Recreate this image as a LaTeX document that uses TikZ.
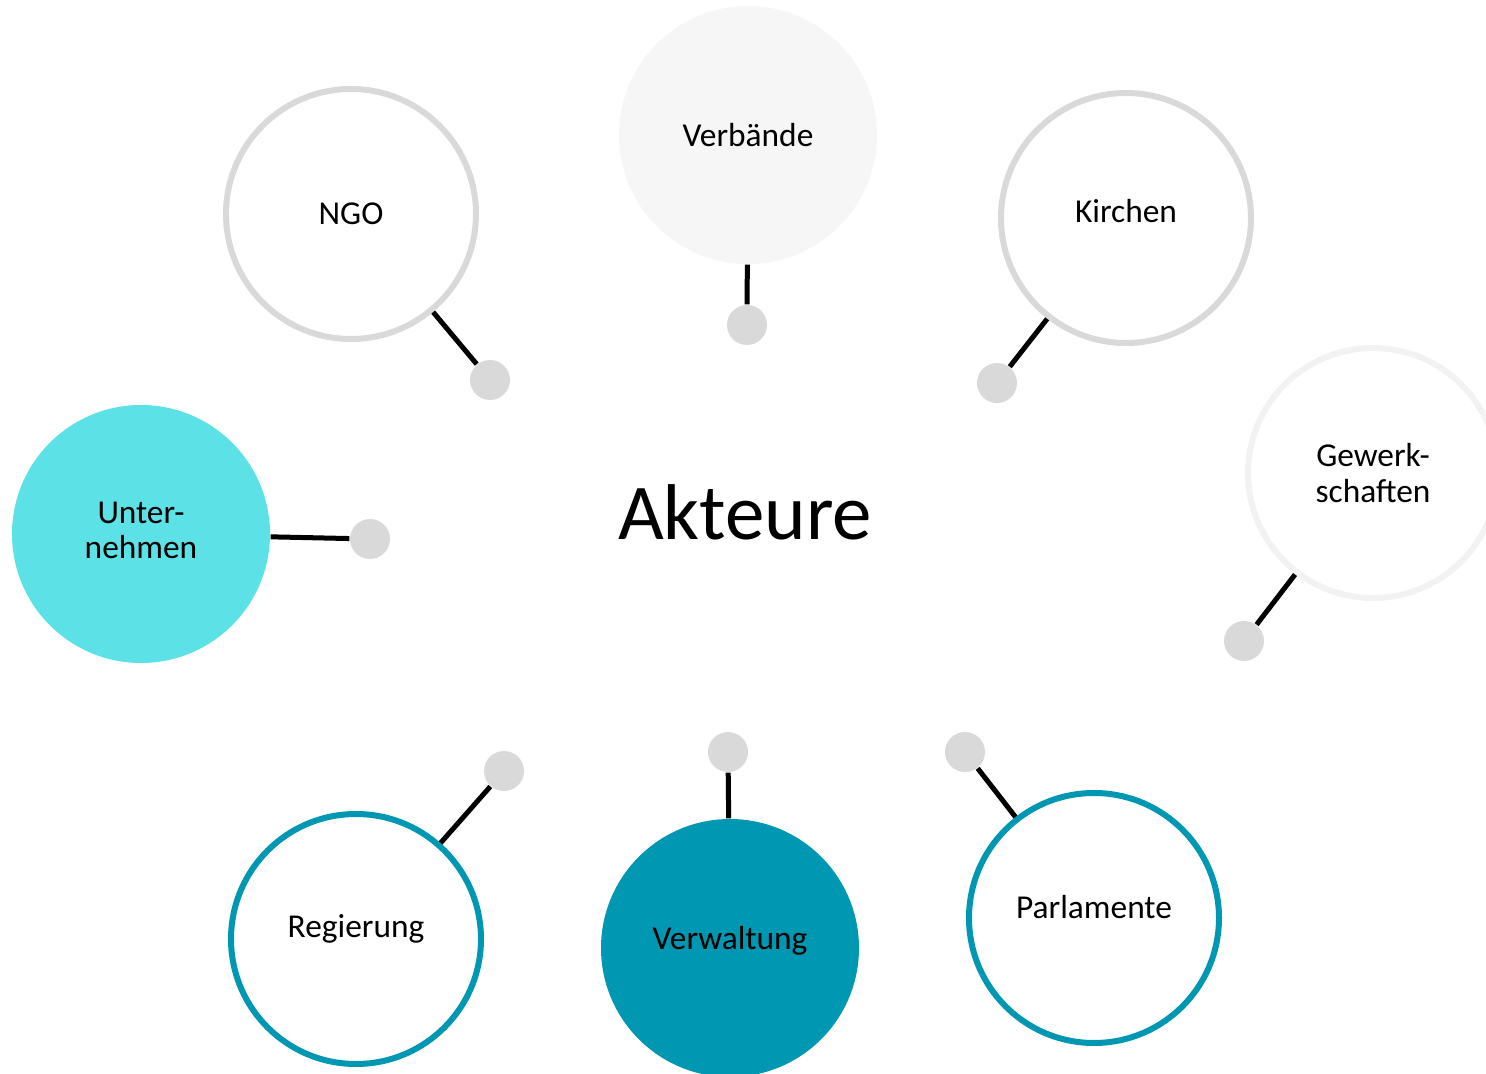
\documentclass[tikz,border=0pt]{standalone}
\usepackage{fontspec}
\setmainfont{Carlito}
\usepackage{tikz}
\definecolor{knobgray}{HTML}{D9D9D9}
\definecolor{palegray}{HTML}{F2F2F2}
\definecolor{fogfill}{HTML}{F6F6F6}
\definecolor{aqua}{HTML}{5CE1E6}
\definecolor{petrol}{HTML}{0097B2}
\tikzset{
	actor/.style={circle, minimum size=2.5cm, inner sep=0pt, align=center, font=\fontsize{9.5}{10}\selectfont},
	grayring/.style={actor, draw=knobgray, line width=0.06cm, fill=white},
	paleRing/.style={actor, draw=palegray, line width=0.06cm, fill=white},
	tealring/.style={actor, draw=petrol, line width=0.06cm, fill=white},
	lifted/.style={text depth=#1},
	knob/.style={circle, fill=knobgray, minimum size=0.4cm, inner sep=0pt},
	link/.style={line width=0.05cm, black}
}

\begin{document}
\begin{tikzpicture}
			%%%%% START %%%%%
			\useasboundingbox (0, 0) rectangle (14.86, -10.74);
			
			\node[font=\fontsize{22.5}{27}\selectfont] (title) at (7.45, -5.12) {Akteure};
			
			% upper half
			\node[grayring] (ngo) at (3.51, -2.14) {NGO};
			\node[actor, fill=fogfill, minimum size=2.58cm] (verb) at (7.48, -1.35) {Verbände};
			\node[grayring, lifted=0.14cm] (kirch) at (11.26, -2.18) {Kirchen};
			\node[paleRing] (gew) at (13.73, -4.73) {Gewerk-\\schaften};
			\node[actor, fill=aqua, minimum size=2.58cm, lifted=0.08cm] (unt) at (1.41, -5.34) {Unter-\\nehmen};
			
			% lower half
			\node[tealring, lifted=0.25cm] (reg) at (3.56, -9.39) {Regierung};
			\node[actor, fill=petrol, minimum size=2.58cm, lifted=0.21cm] (verw) at (7.30, -9.48) {Verwaltung};
			\node[tealring, lifted=0.22cm] (parl) at (10.94, -9.18) {Parlamente};
			
			% knobs
			\node[knob] (ngod) at (4.90, -3.80) {};
			\node[knob] (verbd) at (7.47, -3.25) {};
			\node[knob] (kirchd) at (9.97, -3.83) {};
			\node[knob] (gewd) at (12.44, -6.41) {};
			\node[knob] (untd) at (3.70, -5.39) {};
			\node[knob] (regd) at (5.04, -7.71) {};
			\node[knob] (verwd) at (7.28, -7.52) {};
			\node[knob] (parld) at (9.65, -7.52) {};
			
			\draw[link] (ngo) -- (ngod);
			\draw[link] (verb) -- (verbd);
			\draw[link] (kirch) -- (kirchd);
			\draw[link] (gew) -- (gewd);
			\draw[link] (unt) -- (untd);
			\draw[link] (reg) -- (regd);
			\draw[link] (verw) -- (verwd);
			\draw[link] (parl) -- (parld);
			
			%%%%% END %%%%%
		\end{tikzpicture}
\end{document}
